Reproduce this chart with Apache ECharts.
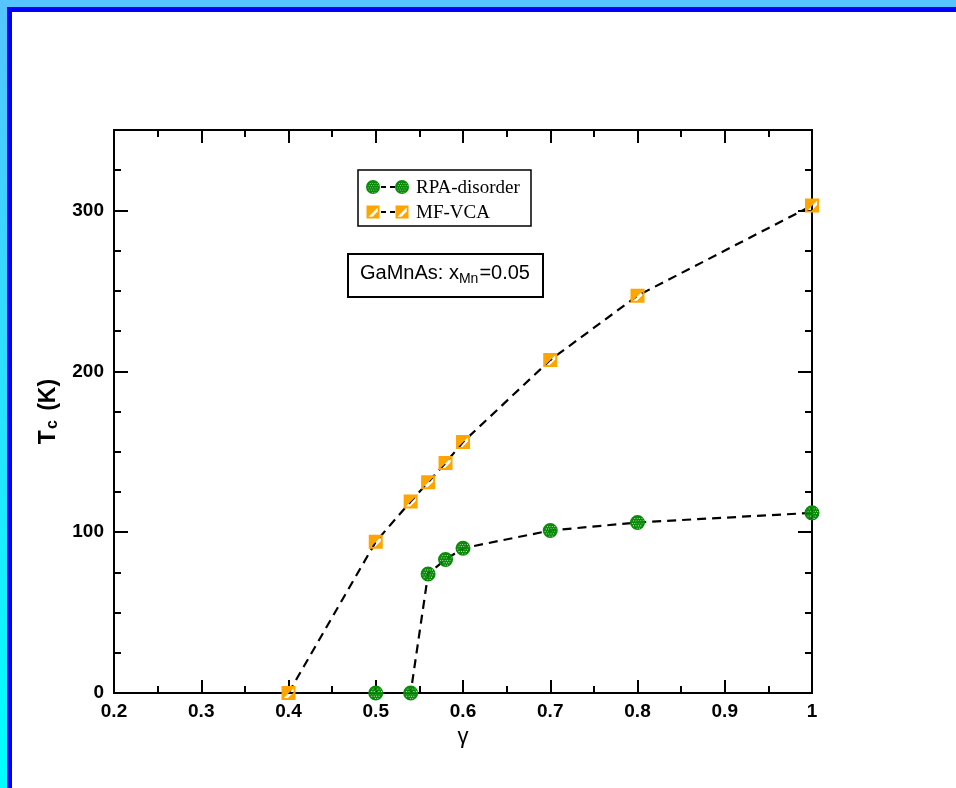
<!DOCTYPE html>
<html>
<head>
<meta charset="utf-8">
<script src="https://cdn.jsdelivr.net/npm/echarts@6/dist/echarts.min.js"></script>
<style>
html,body{margin:0;padding:0;background:#fff;}
#chart{width:956px;height:788px;}
</style>
</head>
<body>
<div id="chart"></div>
<script>
// ---- data ----
const rpaGamma = [0.5, 0.54, 0.56, 0.58, 0.6, 0.7, 0.8, 1.0];
const rpaTc    = [0,   0,    74,   83,   90,  101, 106, 112];
const mfGamma  = [0.4, 0.5, 0.54, 0.56, 0.58, 0.6, 0.7, 0.8, 1.0];
const mfTc     = [0,   94,  119,  131,  143,  156, 207, 247, 303];
const seriesNames = ['RPA-disorder', 'MF-VCA'];
const annotation = ['GaMnAs: x', 'Mn', '=0.05'];
const xTitle = 'γ';

// ---- styles ----
const GREEN = '#0a8c0a';
const ORANGE = '#ffa500';
const FONT = '"Liberation Sans", Arial, sans-serif';
const SERIF = '"Liberation Serif", "Times New Roman", serif';

// dotted circle symbol (holes counter-clockwise)
const DOTS = [];
(function () {
  const s = 3.2, h = 1.1;
  for (let r = 0; r * s < 20; r++) {
    const off = (r % 2) ? s / 2 : 0;
    for (let c = 0; c * s < 20; c++) {
      const x = 1 + c * s + off, y = 1 + r * s;
      const cx = x + h / 2, cy = y + h / 2;
      if ((cx - 10) * (cx - 10) + (cy - 10) * (cy - 10) < 8.3 * 8.3) DOTS.push([x, y, h]);
    }
  }
})();
function dotCirclePath() {
  let p = 'M0 10 A10 10 0 1 1 20 10 A10 10 0 1 1 0 10 Z ';
  DOTS.forEach(([x, y, h]) => {
    p += 'M' + x.toFixed(2) + ' ' + y.toFixed(2) + ' L' + x.toFixed(2) + ' ' + (y + h).toFixed(2) +
         ' L' + (x + h).toFixed(2) + ' ' + (y + h).toFixed(2) + ' L' + (x + h).toFixed(2) + ' ' + y.toFixed(2) + ' Z ';
  });
  return p;
}
const CIRCLE_PATH = dotCirclePath();
const STRIPE = [[1.6, 8.6], [4.6, 8.6], [8.6, 4.6], [8.6, 1.6]];
const SQUARE_PATH = 'M0 0 L10 0 L10 10 L0 10 Z M' + STRIPE.map(p => p[0] + ' ' + p[1]).join(' L') + ' Z';

const pairs = (xs, ys) => xs.map((x, i) => [x, ys[i]]);

// legend symbol graphics
function legendCircle(cx, cy, d) {
  const k = d / 20, x0 = cx - d / 2, y0 = cy - d / 2;
  const els = [{type: 'circle', shape: {cx: cx, cy: cy, r: d / 2}, style: {fill: GREEN}, z: 12}];
  DOTS.forEach(([x, y, h]) => els.push({type: 'rect', shape: {x: x0 + x * k, y: y0 + y * k, width: h * k, height: h * k}, style: {fill: 'rgba(255,255,255,0.8)'}, z: 13}));
  return els;
}
function legendSquare(cx, cy, d) {
  const k = d / 10, x0 = cx - d / 2, y0 = cy - d / 2;
  return [
    {type: 'rect', shape: {x: x0, y: y0, width: d, height: d}, style: {fill: ORANGE}, z: 12},
    {type: 'polygon', shape: {points: STRIPE.map(p => [x0 + p[0] * k, y0 + p[1] * k])}, style: {fill: '#fff'}, z: 13}
  ];
}

const chart = echarts.init(document.getElementById('chart'), null, {renderer: 'canvas'});

const axisLine = {show: true, onZero: false, lineStyle: {color: '#000', width: 2}};
const xCommon = {
  type: 'value', min: 0.2, max: 1, interval: 0.1,
  axisLine: axisLine,
  axisTick: {show: true, inside: true, length: 13, lineStyle: {color: '#000', width: 2}},
  minorTick: {show: true, splitNumber: 2, length: 7, lineStyle: {color: '#000', width: 2}},
  splitLine: {show: false}, minorSplitLine: {show: false}
};
const yMajor = {
  type: 'value', min: 0, max: 350, interval: 100,
  axisLine: axisLine,
  axisTick: {show: true, inside: true, length: 14, lineStyle: {color: '#000', width: 2}},
  splitLine: {show: false}
};
const yMinor = {
  type: 'value', min: 0, max: 350, interval: 25,
  axisLine: axisLine,
  axisTick: {show: true, inside: true, length: 7, lineStyle: {color: '#000', width: 2}},
  axisLabel: {show: false},
  splitLine: {show: false}
};

const graphics = [
  // frame
  {type: 'rect', shape: {x: 0, y: 0, width: 956, height: 7}, style: {fill: '#55c4ff'}, silent: true},
  {type: 'rect', shape: {x: 0, y: 0, width: 7, height: 788},
    style: {fill: new echarts.graphic.LinearGradient(0, 0, 0, 1, [{offset: 0, color: '#55c4ff'}, {offset: 1, color: '#00ffff'}])}, silent: true},
  {type: 'rect', shape: {x: 7, y: 7, width: 949, height: 5}, style: {fill: '#0000ff'}, silent: true},
  {type: 'rect', shape: {x: 7, y: 7, width: 5, height: 781}, style: {fill: '#0000ff'}, silent: true},
  // legend box
  {type: 'rect', shape: {x: 358, y: 170, width: 173, height: 56}, style: {fill: '#fff', stroke: '#000', lineWidth: 1.5}, z: 10},
  {type: 'line', shape: {x1: 381, y1: 187, x2: 395, y2: 187}, style: {stroke: '#000', lineWidth: 2.2, lineDash: [5, 4]}, z: 11},
  {type: 'text', x: 416, y: 188, style: {text: seriesNames[0], font: '19px ' + SERIF, fill: '#000', verticalAlign: 'middle'}, z: 12},
  {type: 'line', shape: {x1: 381, y1: 212, x2: 395, y2: 212}, style: {stroke: '#000', lineWidth: 2.2, lineDash: [5, 4]}, z: 11},
  {type: 'text', x: 416, y: 213, style: {text: seriesNames[1], font: '19px ' + SERIF, fill: '#000', verticalAlign: 'middle'}, z: 12},
  // annotation box
  {type: 'rect', shape: {x: 348, y: 254, width: 195, height: 43}, style: {fill: '#fff', stroke: '#000', lineWidth: 2}, z: 10},
  {type: 'text', x: 445, y: 273, z: 12,
    style: {
      text: '{a|' + annotation[0] + '}{s|' + annotation[1] + '}{a|' + annotation[2] + '}',
      align: 'center', verticalAlign: 'middle',
      rich: {
        a: {fontFamily: FONT, fontSize: 20, fill: '#000'},
        s: {fontFamily: FONT, fontSize: 14, fill: '#000', verticalAlign: 'bottom', padding: [12, 1, 0, 0]}
      }
    }}
].concat(legendCircle(373, 187, 14), legendCircle(402, 187, 14), legendSquare(373, 212, 13), legendSquare(402, 212, 13));

const option = {
  backgroundColor: '#ffffff',
  animation: false,
  grid: {left: 114, right: 144, top: 130, bottom: 95, containLabel: false},
  xAxis: [
    Object.assign({}, xCommon, {
      position: 'bottom',
      name: xTitle, nameLocation: 'middle', nameGap: 33,
      nameTextStyle: {fontFamily: FONT, fontSize: 22, color: '#000'},
      axisLabel: {show: true, margin: 9, color: '#000', fontFamily: FONT, fontWeight: 'bold', fontSize: 19}
    }),
    Object.assign({}, xCommon, {position: 'top', axisLabel: {show: false}})
  ],
  yAxis: [
    Object.assign({}, yMajor, {
      position: 'left',
      name: '{b|T}{s|c}{b| (K)}', nameLocation: 'middle', nameGap: 53, nameRotate: 90,
      nameTextStyle: {
        rich: {
          b: {fontFamily: FONT, fontWeight: 'bold', fontSize: 23, color: '#000'},
          s: {fontFamily: FONT, fontWeight: 'bold', fontSize: 16, color: '#000', verticalAlign: 'bottom', padding: [9, 3, 0, 1]}
        }
      },
      axisLabel: {show: true, margin: 10, color: '#000', fontFamily: FONT, fontWeight: 'bold', fontSize: 19,
        formatter: v => (v === 350 ? '' : String(v))}
    }),
    Object.assign({}, yMajor, {position: 'right', axisLabel: {show: false}}),
    Object.assign({}, yMinor, {position: 'left'}),
    Object.assign({}, yMinor, {position: 'right'})
  ],
  series: [
    {
      name: seriesNames[0], type: 'line', xAxisIndex: 0, yAxisIndex: 0,
      data: pairs(rpaGamma, rpaTc),
      symbol: 'path://' + CIRCLE_PATH, symbolSize: 15, symbolKeepAspect: true,
      itemStyle: {color: GREEN},
      lineStyle: {color: '#000', width: 2.2, type: [9, 6]},
      clip: false, z: 3
    },
    {
      name: seriesNames[1], type: 'line', xAxisIndex: 0, yAxisIndex: 0,
      data: pairs(mfGamma, mfTc),
      symbol: 'path://' + SQUARE_PATH, symbolSize: 14, symbolKeepAspect: true,
      itemStyle: {color: ORANGE},
      lineStyle: {color: '#000', width: 2.2, type: [9, 6]},
      clip: false, z: 3
    }
  ],
  graphic: graphics
};
chart.setOption(option);
</script>
</body>
</html>
